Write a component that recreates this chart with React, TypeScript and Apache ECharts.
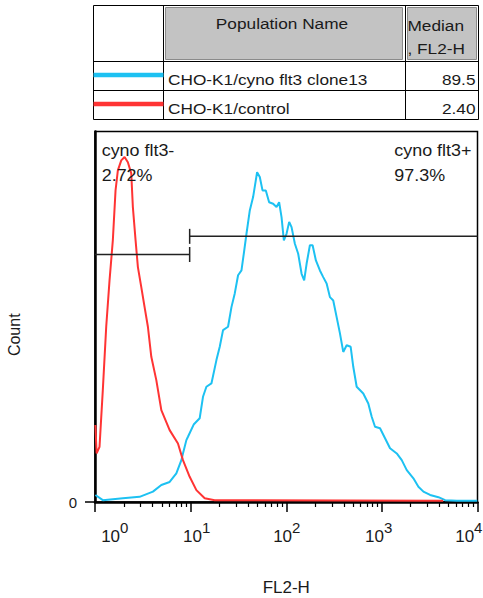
import React, { useEffect, useRef } from 'react';
import * as echarts from 'echarts';

// ---- data (FL2-H on log scale, count as % of plot height) ----
const blueX = [1.01, 1.207, 1.956, 2.925, 4.034, 4.939, 6.034, 7.091, 8.002, 8.315, 9.026, 9.38, 10.76, 12.44, 13.47, 14.62, 16.5, 18.61, 20.16, 21.83, 24.62, 26.73, 28.94, 31.35, 34.02, 35.96, 38.38, 41.57, 45.01, 48.03, 49.56, 52.89, 56.45, 61.13, 66.22, 72.89, 79.14, 84.25, 89.27, 94.38, 100.7, 107.3, 113.6, 123.1, 133.3, 144.7, 154.0, 163.2, 176.7, 188.6, 204.2, 224.9, 243.6, 264.4, 286.3, 310.0, 336.5, 364.3, 394.6, 428.2, 471.7, 502.2, 545.1, 639.0, 721.1, 782.8, 847.9, 956.4, 1079, 1217, 1431, 1614, 1821, 2136, 2410, 2719, 3195, 3904, 4588, 6085, 9930];
const blueY = [1.9, 0.5, 1.0, 1.4, 2.8, 4.6, 5.4, 7.7, 11.3, 13.1, 16.7, 17.6, 20.9, 22.6, 28.4, 31.1, 32.0, 38.3, 41.9, 46.4, 47.3, 52.6, 56.3, 61.2, 62.5, 67.0, 72.4, 78.7, 82.3, 86.8, 89.0, 87.7, 84.1, 84.1, 80.9, 80.5, 79.6, 80.9, 76.9, 70.6, 72.4, 75.6, 74.2, 69.7, 67.0, 61.6, 59.8, 64.3, 69.3, 69.3, 65.2, 62.5, 60.7, 59.0, 55.3, 54.4, 49.9, 45.5, 40.5, 42.3, 41.9, 36.5, 31.1, 29.3, 26.6, 23.0, 20.3, 19.9, 17.2, 14.5, 13.1, 11.3, 8.6, 6.4, 4.1, 2.8, 1.9, 1.3, 0.5, 0.35, 0.35];
const redX = [1.01, 1.04, 1.115, 1.207, 1.31, 1.419, 1.536, 1.64, 1.734, 1.882, 2.038, 2.206, 2.394, 2.489, 2.657, 2.809, 3.048, 3.301, 3.574, 3.88, 4.377, 4.939, 6.034, 7.371, 8.315, 9.774, 11.49, 14.04, 17.86, 4372];
const redY = [20.8, 13.1, 14.9, 30.2, 47.3, 59.8, 70.6, 84.1, 89.5, 92.2, 93.1, 91.7, 88.7, 79.6, 70.6, 63.4, 58.0, 52.6, 47.3, 39.2, 32.9, 24.8, 19.4, 15.8, 11.3, 6.8, 3.2, 1.0, 0.5, 0.35];

const gateNegX = [1, 9.77];
const gateNegY = 66.8;
const gatePosX = [9.77, 10000];
const gatePosY = 71.7;
const gateNames = ['cyno flt3-', 'cyno flt3+'];
const gatePercents = ['2.72%', '97.3%'];

const populations = ['CHO-K1/cyno flt3 clone13', 'CHO-K1/control'];
const medians = ['89.5', '2.40'];
const seriesColors = ['#1dc1f2', '#ff3434'];
const tableHeaders = ['Population Name', 'Median', ', FL2-H'];
const xTickValues = [1, 10, 100, 1000, 10000];

const FONT = '"Liberation Sans", Arial, Helvetica, sans-serif';
const TXT = '#1a1a1a';

export default function App() {
  const ref = useRef<HTMLDivElement>(null);
  useEffect(() => {
    if (!ref.current) return;
    const chart = echarts.init(ref.current, null, { renderer: 'svg' });

    const richX: any = {};
    const shifts = [39.6, 12, 1, -6.5, -17.4];
    xTickValues.forEach((_, i) => {
      const s = shifts[i];
      richX['b' + i] = { fontSize: 17, lineHeight: 32, fontFamily: FONT, color: TXT, padding: [0, 0, 0, s > 0 ? s : 0] };
      richX['s' + i] = { fontSize: 15, lineHeight: 9, verticalAlign: 'top', fontFamily: FONT, color: TXT, padding: [0, s < 0 ? -s : 0, 0, 0] };
    });

    // table graphics
    const T = { l: 93.5, r: 478.5, t: 5.5, b: 119.5, c1: 163.5, c2: 405.5, r1: 61.5, r2: 90.5 };
    const lineStyle = { stroke: '#000', lineWidth: 1 };
    const g: any[] = [
      { type: 'rect', shape: { x: T.l, y: T.t, width: T.r - T.l, height: T.b - T.t }, style: { fill: '#fff', stroke: '#000', lineWidth: 1 } },
      { type: 'rect', shape: { x: 165.5, y: 7.5, width: 237, height: 52 }, style: { fill: '#c3c3c3', stroke: '#8a8a8a', lineWidth: 1 } },
      { type: 'rect', shape: { x: 407.5, y: 7.5, width: 69, height: 52 }, style: { fill: '#c3c3c3', stroke: '#8a8a8a', lineWidth: 1 } },
      { type: 'line', shape: { x1: T.c1, y1: T.t, x2: T.c1, y2: T.b }, style: lineStyle },
      { type: 'line', shape: { x1: T.c2, y1: T.t, x2: T.c2, y2: T.b }, style: lineStyle },
      { type: 'line', shape: { x1: T.l, y1: T.r1, x2: T.r, y2: T.r1 }, style: lineStyle },
      { type: 'line', shape: { x1: T.l, y1: T.r2, x2: T.r, y2: T.r2 }, style: lineStyle },
      { type: 'text', x: 282, y: 23.5, scaleX: 1.15, style: { text: tableHeaders[0], fontSize: 15, fontFamily: FONT, fill: TXT, align: 'center', verticalAlign: 'middle' } },
      { type: 'text', x: 407.5, y: 25, scaleX: 1.15, style: { text: tableHeaders[1], fontSize: 15, fontFamily: FONT, fill: TXT, align: 'left', verticalAlign: 'middle' } },
      { type: 'text', x: 407.5, y: 48, scaleX: 1.15, style: { text: tableHeaders[2], fontSize: 15, fontFamily: FONT, fill: TXT, align: 'left', verticalAlign: 'middle' } },
    ];
    const rowY = [79.7, 108];
    const legY = [75, 104];
    populations.forEach((p, i) => {
      g.push({ type: 'line', shape: { x1: T.l, y1: legY[i], x2: T.c1, y2: legY[i] }, style: { stroke: seriesColors[i], lineWidth: 4.5 } });
      g.push({ type: 'text', x: 168, y: rowY[i], scaleX: 1.15, style: { text: p, fontSize: 15, fontFamily: FONT, fill: TXT, align: 'left', verticalAlign: 'middle' } });
      g.push({ type: 'text', x: 475.5, y: rowY[i], scaleX: 1.15, style: { text: medians[i], fontSize: 15, fontFamily: FONT, fill: TXT, align: 'right', verticalAlign: 'middle' } });
    });
    // gate annotations
    const annX = [101.7, 394.3];
    annX.forEach((x, i) => {
      g.push({ type: 'text', x, y: 150.6, scaleX: 1.12, z: 10, style: { text: gateNames[i], fontSize: 16, fontFamily: FONT, fill: TXT, align: 'left', verticalAlign: 'middle' } });
      g.push({ type: 'text', x, y: 175.6, scaleX: 1.12, z: 10, style: { text: gatePercents[i], fontSize: 16, fontFamily: FONT, fill: TXT, align: 'left', verticalAlign: 'middle' } });
    });

    const gateData = [
      [gateNegX[0], gateNegX[1], gateNegY, 1],
      [gatePosX[0], gatePosX[1], gatePosY, 0],
    ];

    chart.setOption({
      animation: false,
      grid: { left: 95, right: 5.5, top: 131.5, bottom: 96, show: true, borderColor: '#000', borderWidth: 1.5, backgroundColor: 'transparent', outerBoundsMode: 'none', containLabel: false },
      graphic: g,
      xAxis: {
        type: 'log',
        logBase: 10,
        min: 1,
        max: 10000,
        position: 'bottom',
        name: 'FL2-H',
        nameLocation: 'middle',
        nameGap: 77,
        nameTextStyle: { fontSize: 17, fontFamily: FONT, color: TXT },
        axisLine: { show: true, lineStyle: { color: '#000', width: 2.5 } },
        axisTick: { show: true, length: 10, lineStyle: { color: '#000', width: 1.5 } },
        minorTick: { show: true, splitNumber: 9, length: 5, lineStyle: { color: '#000', width: 1.2 } },
        splitLine: { show: false },
        minorSplitLine: { show: false },
        axisLabel: {
          margin: 18,
          formatter: (v: number) => {
            const e = Math.round(Math.log10(v));
            return '{b' + e + '|10}{s' + e + '|' + e + '}';
          },
          rich: richX,
        },
      },
      yAxis: {
        type: 'value',
        min: 0,
        max: 100,
        name: 'Count',
        nameLocation: 'middle',
        nameGap: 73,
        nameTextStyle: { fontSize: 16, fontFamily: FONT, color: TXT, padding: [0, 36, 0, 0] },
        axisLine: { show: true, lineStyle: { color: '#000', width: 2.5 } },
        axisTick: { show: true, customValues: [0], length: 10, lineStyle: { color: '#000', width: 1.5 } },
        axisLabel: { customValues: [0], margin: 18, fontSize: 15, fontFamily: FONT, color: TXT, padding: [0, 0, 6, 0] },
        splitLine: { show: false },
      },
      series: [
        {
          type: 'line',
          data: blueX.map((x, i) => [x, blueY[i]]),
          showSymbol: false,
          lineStyle: { color: seriesColors[0], width: 2 },
          itemStyle: { color: seriesColors[0] },
          z: 2,
        },
        {
          type: 'line',
          data: redX.map((x, i) => [x, redY[i]]),
          showSymbol: false,
          lineStyle: { color: seriesColors[1], width: 2 },
          itemStyle: { color: seriesColors[1] },
          z: 3,
        },
        {
          type: 'custom',
          data: gateData,
          encode: { x: [0, 1], y: 2 },
          z: 4,
          renderItem: (params: any, api: any) => {
            const p0 = api.coord([api.value(0), api.value(2)]);
            const p1 = api.coord([api.value(1), api.value(2)]);
            const tx = api.value(3) === 0 ? p0[0] : p1[0];
            const st = { stroke: '#222', lineWidth: 1.5 };
            return {
              type: 'group',
              children: [
                { type: 'line', shape: { x1: p0[0], y1: p0[1], x2: p1[0], y2: p1[1] }, style: st },
                { type: 'line', shape: { x1: tx, y1: p0[1] - 7.5, x2: tx, y2: p0[1] + 7.5 }, style: st },
              ],
            };
          },
        },
      ],
    });
    return () => chart.dispose();
  }, []);
  return <div ref={ref} style={{ position: 'absolute', left: 0, top: 0, width: 483, height: 598 }} />;
}
